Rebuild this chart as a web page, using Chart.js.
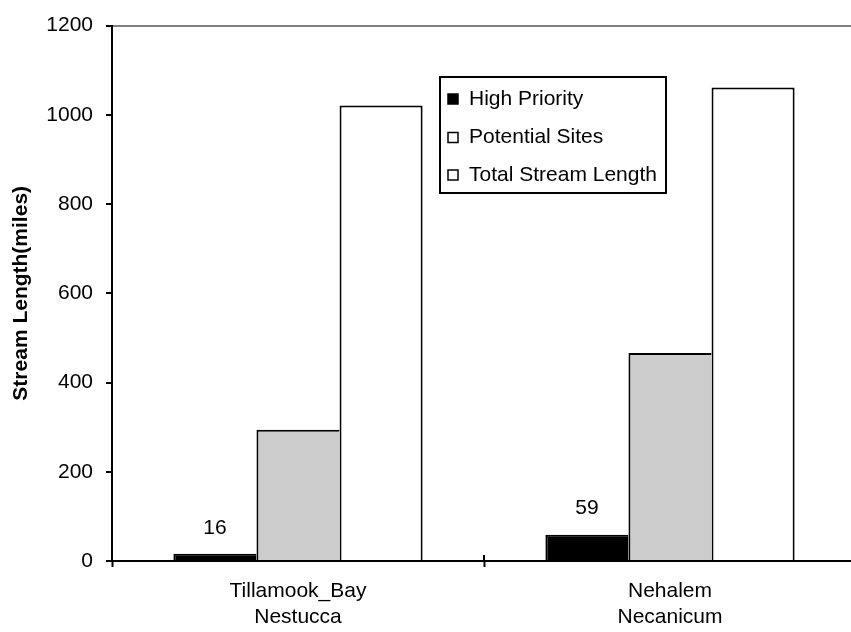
<!DOCTYPE html>
<html>
<head>
<meta charset="utf-8">
<script src="https://cdn.jsdelivr.net/npm/chart.js@4/dist/chart.umd.min.js"></script>
<style>
  html, body { margin: 0; padding: 0; background: #fff; overflow: hidden; }
  #wrap { width: 860px; height: 632px; }
</style>
</head>
<body>
<div id="wrap"><canvas id="c" width="860" height="632"></canvas></div>
<script>
// Basins (two-line category labels)
const regions = [['Tillamook_Bay', 'Nestucca'], ['Nehalem', 'Necanicum']];
// Series names
const seriesNames = ['High Priority', 'Potential Sites', 'Total Stream Length'];
// Stream length in miles
const highPriority = [16, 59];
const potentialSites = [294, 466];
const totalStreamLength = [1021, 1061];
// Value axis
const yMin = 0, yMax = 1200, yStep = 200;

const FONT = '"Liberation Sans", Arial, Helvetica, sans-serif';

// Value labels above the High Priority bars
const valueLabels = {
  id: 'valueLabels',
  afterDatasetsDraw(chart) {
    const ctx = chart.ctx;
    const meta = chart.getDatasetMeta(0);
    ctx.save();
    ctx.font = '21px ' + FONT;
    ctx.fillStyle = '#000';
    ctx.textAlign = 'center';
    ctx.textBaseline = 'middle';
    meta.data.forEach((bar, i) => {
      ctx.fillText(String(highPriority[i]), bar.x, bar.y - 26);
    });
    ctx.restore();
  }
};

// Category separators cross the category axis line
const crossTicks = {
  id: 'crossTicks',
  afterDraw(chart) {
    const x = chart.scales.x;
    const ctx = chart.ctx;
    const half = (x.getPixelForValue(1) - x.getPixelForValue(0)) / 2;
    ctx.save();
    ctx.strokeStyle = '#000';
    ctx.lineWidth = 2;
    ctx.beginPath();
    for (let i = 1; i < regions.length; i++) {
      const px = Math.round(x.getPixelForValue(i) - half);
      ctx.moveTo(px, x.top - 6);
      ctx.lineTo(px, x.top);
    }
    ctx.stroke();
    ctx.restore();
  }
};

// Boxed legend placed inside the plot area
const boxedLegend = {
  id: 'boxedLegend',
  afterDraw(chart) {
    const ctx = chart.ctx;
    const box = { x: 440, y: 77, w: 226, h: 116 };
    const rows = [99, 137.5, 175];
    const swatches = ['#000000', '#ffffff', '#ffffff'];
    ctx.save();
    ctx.fillStyle = '#fff';
    ctx.fillRect(box.x, box.y, box.w, box.h);
    ctx.strokeStyle = '#000';
    ctx.lineWidth = 2;
    ctx.strokeRect(box.x, box.y, box.w, box.h);
    ctx.font = '21px ' + FONT;
    ctx.textBaseline = 'middle';
    ctx.textAlign = 'left';
    seriesNames.forEach((name, i) => {
      const y = rows[i];
      ctx.fillStyle = swatches[i];
      ctx.fillRect(448, y - 5, 10, 10);
      ctx.lineWidth = 1.5;
      ctx.strokeStyle = '#000';
      ctx.strokeRect(448, y - 5, 10, 10);
      ctx.fillStyle = '#000';
      ctx.fillText(name, 469, y);
    });
    ctx.restore();
  }
};

new Chart(document.getElementById('c'), {
  type: 'bar',
  data: {
    labels: regions,
    datasets: [
      { label: seriesNames[0], data: highPriority, backgroundColor: '#000000', borderColor: '#000',
        borderWidth: { left: 2, right: 0, top: 2, bottom: 0 }, borderSkipped: false },
      { label: seriesNames[1], data: potentialSites, backgroundColor: '#cccccc', borderColor: '#000',
        borderWidth: { left: 2, right: 0, top: 2, bottom: 0 }, borderSkipped: false },
      { label: seriesNames[2], data: totalStreamLength, backgroundColor: '#ffffff', borderColor: '#000',
        borderWidth: { left: 2, right: 2, top: 2, bottom: 0 }, borderSkipped: false }
    ]
  },
  options: {
    responsive: false,
    animation: false,
    devicePixelRatio: 1,
    layout: { padding: { top: 20, right: 4, bottom: 0, left: 0 } },
    datasets: { bar: { barPercentage: 1, categoryPercentage: 0.67 } },
    plugins: {
      legend: { display: false },
      tooltip: { enabled: false }
    },
    scales: {
      x: {
        grid: { drawOnChartArea: false, tickLength: 6, tickColor: '#000', tickWidth: 2, offset: true },
        border: { color: '#000', width: 2 },
        ticks: { color: '#000', font: { family: FONT, size: 21, lineHeight: 1.2 }, padding: 12, maxRotation: 0, autoSkip: false },
        afterFit(scale) { scale.height = 71; }
      },
      y: {
        min: yMin, max: yMax,
        grid: {
          color: (c) => (c.tick && c.tick.value === yMax ? '#808080' : 'rgba(0,0,0,0)'),
          lineWidth: 2, tickLength: 6, tickColor: '#000', tickWidth: 2
        },
        border: { color: '#000', width: 2 },
        ticks: { stepSize: yStep, color: '#000', font: { family: FONT, size: 21 }, padding: 13,
                 callback: (v) => String(v) },
        title: {
          display: true, text: 'Stream Length(miles)', color: '#000',
          font: { family: FONT, size: 21, weight: 'bold' }, padding: { top: 9, bottom: 0 }
        },
        afterFit(scale) { scale.width = 112; }
      }
    }
  },
  plugins: [valueLabels, crossTicks, boxedLegend]
});
</script>
</body>
</html>
